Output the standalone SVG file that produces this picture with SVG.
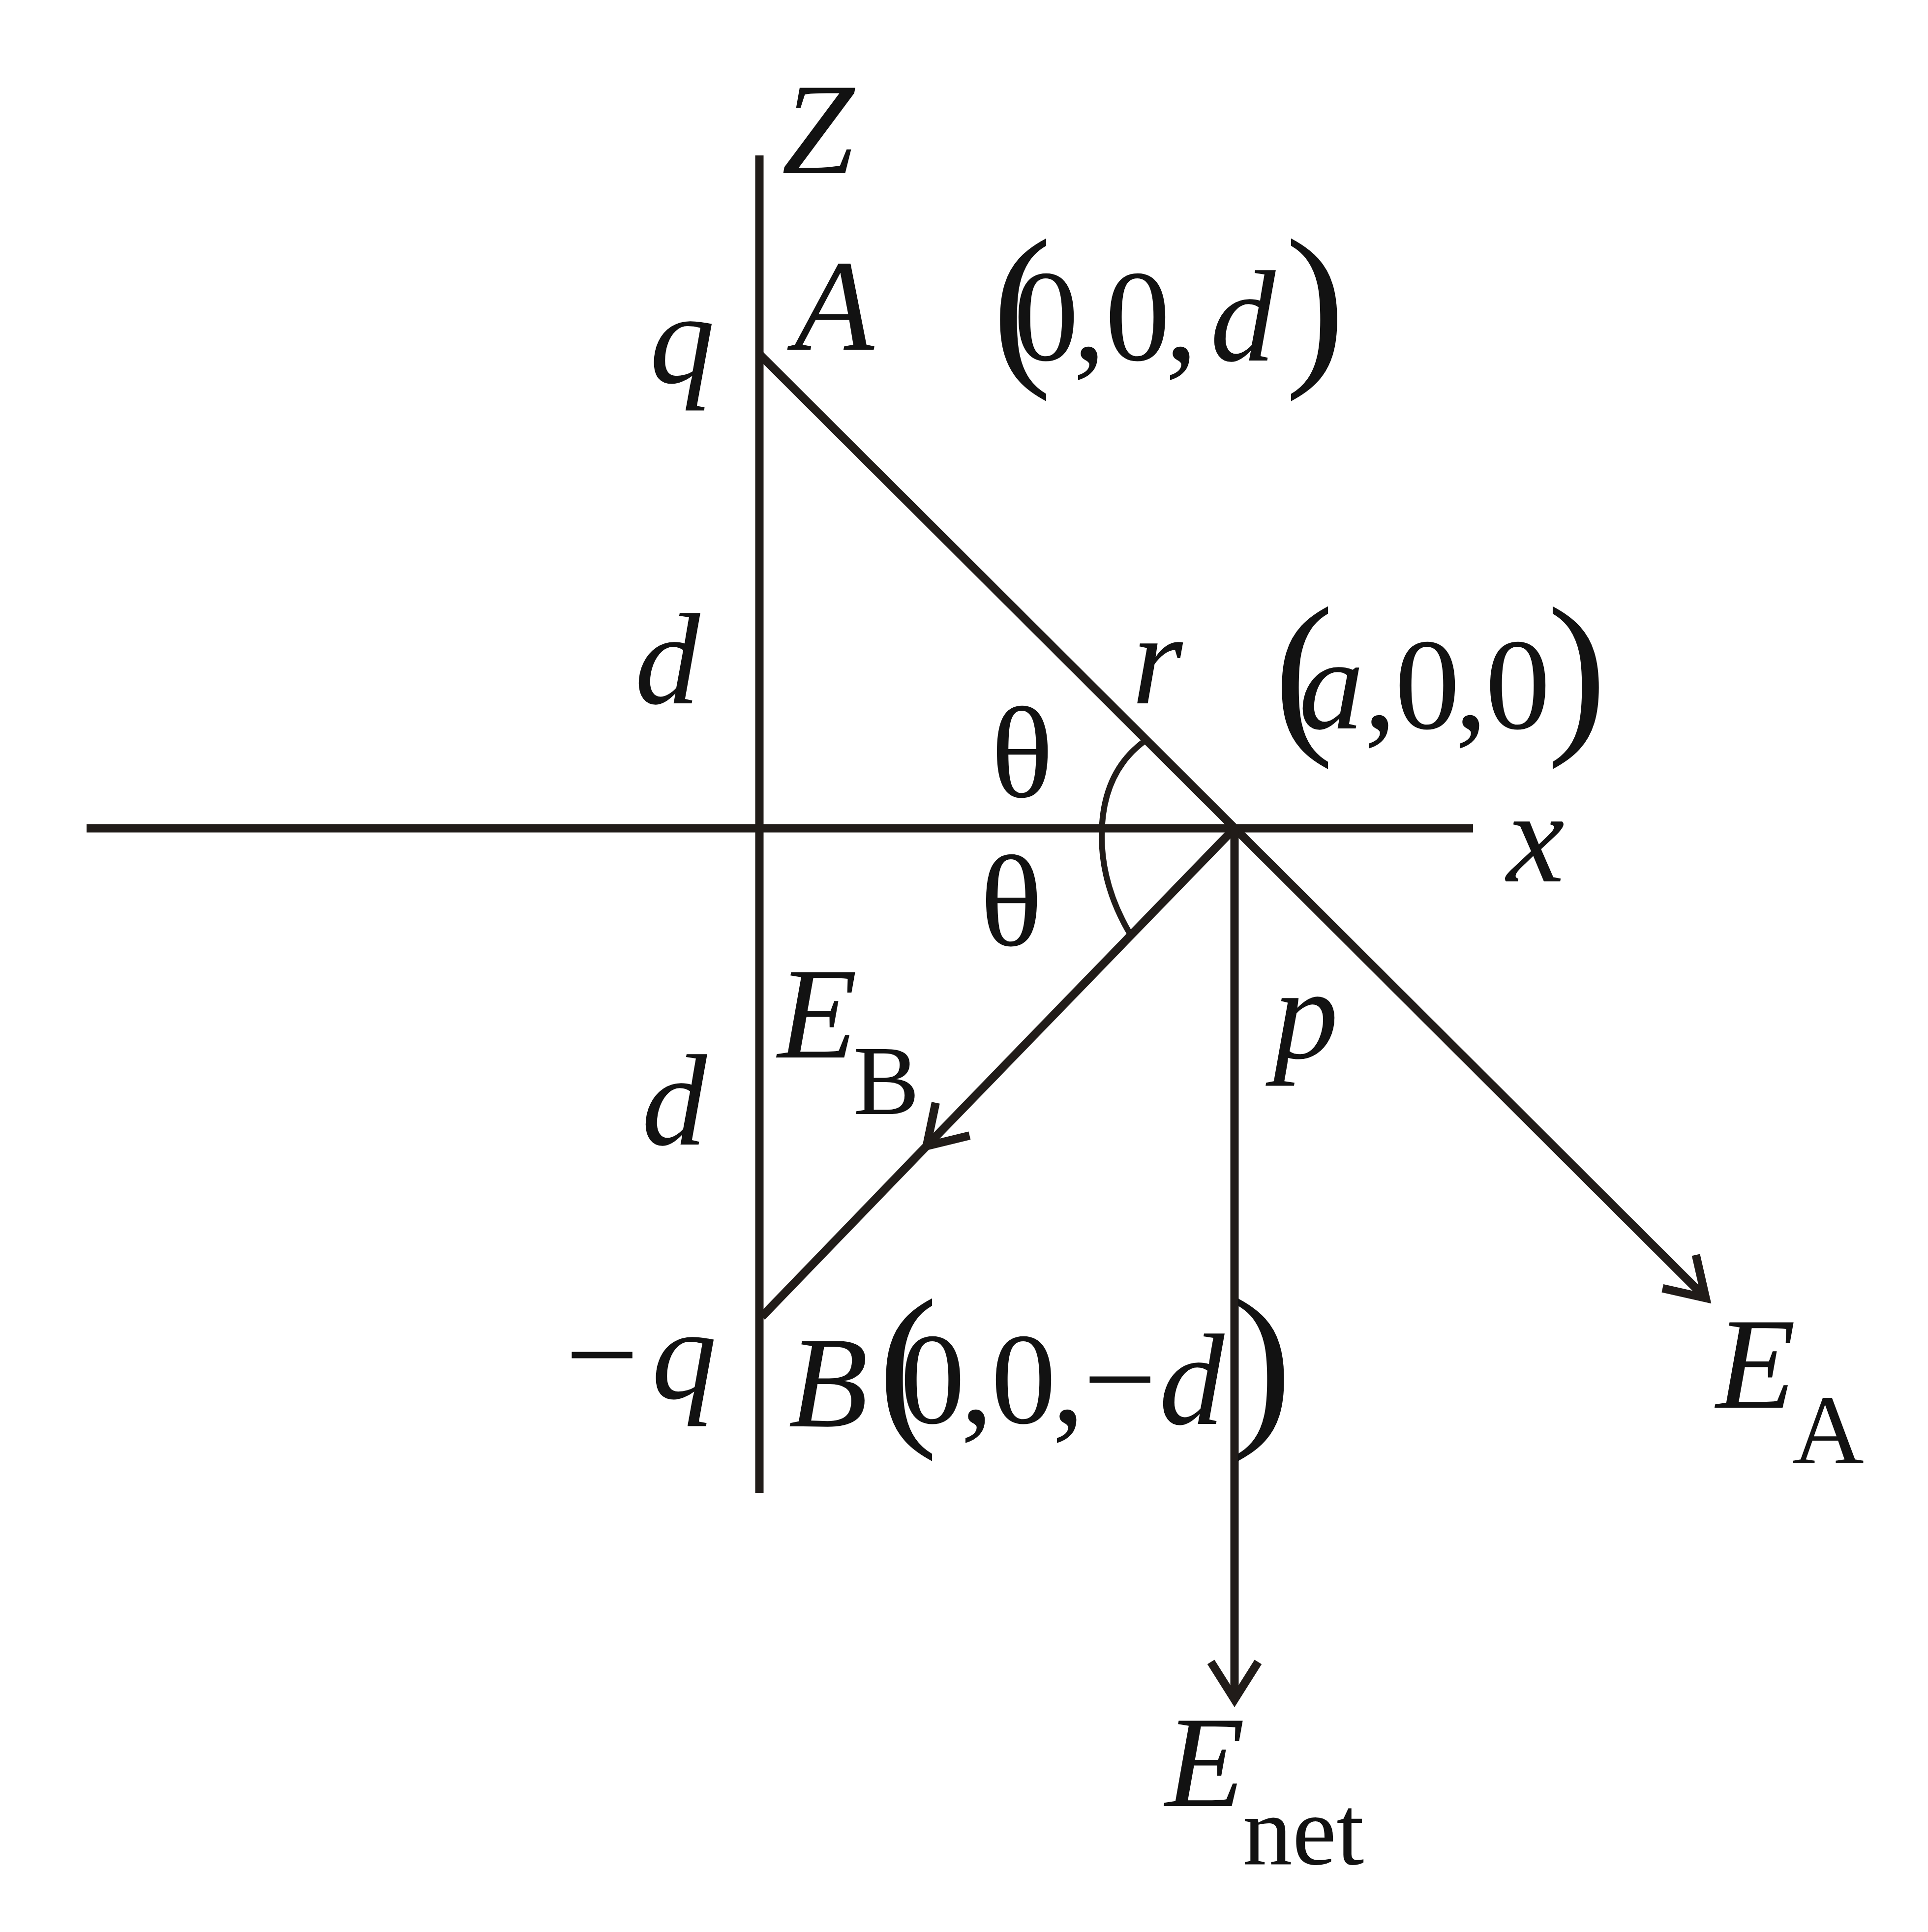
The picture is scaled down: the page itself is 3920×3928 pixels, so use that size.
<svg xmlns="http://www.w3.org/2000/svg" width="3920" height="3928" viewBox="0 0 3920 3928">
<defs>
<style>
.ln{stroke:#211c19;stroke-width:17;fill:none;stroke-linecap:butt}
.t text{fill:#121212;text-anchor:middle;font-family:'Times New Roman','Liberation Serif',Tinos,'Nimbus Roman','Nimbus Roman No9 L',FreeSerif,Times,serif}
.i{font-style:italic;font-size:265px}
.u{font-size:265px}
.s{font-size:202px}
.p{font-size:365px}
</style>
<marker id="arr" markerUnits="userSpaceOnUse" orient="auto" markerWidth="200" markerHeight="200" refX="0" refY="0" viewBox="-100 -100 200 200" overflow="visible">
<path d="M-76,-48 L0,0 L-76,48" fill="none" stroke="#211c19" stroke-width="17" stroke-linejoin="miter"/>
</marker>
</defs>
<rect width="3920" height="3928" fill="#ffffff"/>
<g id="connectors">
<line class="ln" x1="1544" y1="316" x2="1544" y2="3035"/>
<line class="ln" x1="176" y1="1684" x2="2995" y2="1684"/>
<line class="ln" x1="1544" y1="720" x2="3468" y2="2639" marker-end="url(#arr)"/>
<line class="ln" x1="2510" y1="1684" x2="1884" y2="2330" marker-end="url(#arr)"/>
<line class="ln" x1="1884" y1="2330" x2="1549" y2="2677"/>
<line class="ln" x1="2510" y1="1684" x2="2510" y2="3455" marker-end="url(#arr)"/>
<path class="ln" style="stroke-width:12" d="M2328,1506 Q2240,1570 2240,1700 Q2240,1800 2296,1896"/>
</g>
<g class="t">
<g id="axis-labels">
<text class="i" x="1663" y="352">Z</text>
<text class="i" x="3122" y="1792">x</text>
</g>
<g id="point-A">
<text class="i" x="1387" y="778">q</text>
<text class="i" x="1696" y="711">A</text>
<text class="p" x="2078" y="738">(</text>
<text class="u" x="2127" y="732">0</text>
<text class="u" x="2215" y="732">,</text>
<text class="u" x="2313" y="732">0</text>
<text class="u" x="2402" y="732">,</text>
<text class="i" x="2527" y="733">d</text>
<text class="p" x="2674" y="738">)</text>
</g>
<g id="distance-labels">
<text class="i" x="1357" y="1430">d</text>
<text class="i" x="1371" y="2327">d</text>
<text class="i" x="2353" y="1430">r</text>
<text class="i" x="2655" y="2151">p</text>
<text class="u" x="2078" y="1620">θ</text>
<text class="u" x="2056" y="1922">θ</text>
</g>
<g id="point-P">
<text class="p" x="2651" y="1486">(</text>
<text class="i" x="2707" y="1481">a</text>
<text class="u" x="2806" y="1481">,</text>
<text class="u" x="2902" y="1481">0</text>
<text class="u" x="2991" y="1481">,</text>
<text class="u" x="3086" y="1481">0</text>
<text class="p" x="3206" y="1486">)</text>
</g>
<g id="point-B">
<text class="u" x="1224" y="2843">−</text>
<text class="i" x="1391" y="2843">q</text>
<text class="i" x="1684" y="2900">B</text>
<text class="p" x="1846" y="2893">(</text>
<text class="u" x="1896" y="2893">0</text>
<text class="u" x="1986" y="2893">,</text>
<text class="u" x="2081" y="2893">0</text>
<text class="u" x="2172" y="2893">,</text>
<text class="u" x="2277" y="2893">−</text>
<text class="i" x="2423" y="2895">d</text>
<text class="p" x="2566" y="2893">)</text>
</g>
<g id="field-EB">
<text class="i" x="1662" y="2150">E</text>
<text class="s" x="1802" y="2265">B</text>
</g>
<g id="field-EA">
<text class="i" x="3570" y="2862">E</text>
<text class="s" x="3717" y="2975">A</text>
</g>
<g id="field-Enet">
<text class="i" x="2450" y="3672">E</text>
<text class="s" x="2650" y="3790">net</text>
</g>
</g>
</svg>
